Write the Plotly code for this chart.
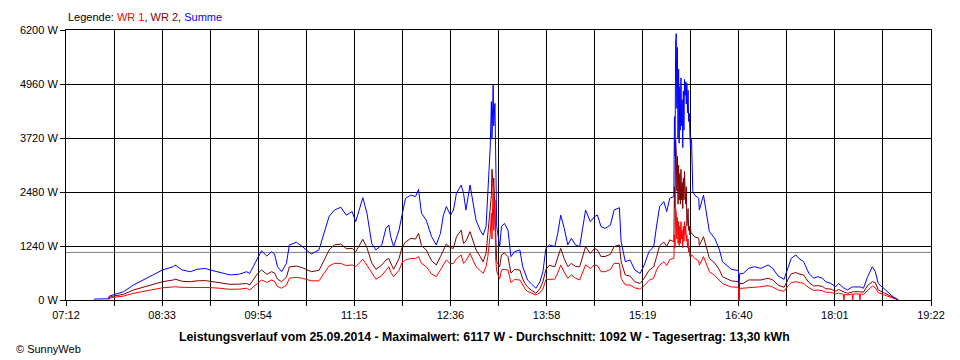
import plotly.graph_objects as go

# ---------------- data ----------------
x_tick_labels = ["07:12", "08:33", "09:54", "11:15", "12:36", "13:58", "15:19", "16:40", "18:01", "19:22"]
y_tick_values = [0, 1240, 2480, 3720, 4960, 6200]
average_w = 1092

times = [
    "07:35:30", "07:48:00", "07:48:30", "07:52:00", "08:00:30", "08:09:00", "08:17:30", "08:26:00", "08:33:30", "08:42:30",
    "08:44:00", "08:50:00", "08:57:00", "09:02:30", "09:09:30", "09:13:30", "09:22:00", "09:30:30", "09:38:30", "09:44:30",
    "09:47:00", "09:51:00", "09:53:30", "09:57:00", "10:01:30", "10:05:30", "10:08:00", "10:10:30", "10:14:00", "10:18:00",
    "10:20:30", "10:26:30", "10:31:30", "10:39:00", "10:45:30", "10:50:00", "10:54:00", "10:58:30", "11:04:00", "11:08:30",
    "11:13:30", "11:16:30", "11:19:30", "11:22:30", "11:26:00", "11:30:00", "11:33:30", "11:38:30", "11:42:00", "11:44:30",
    "11:46:00", "11:48:30", "11:53:00", "11:55:30", "11:58:30", "12:03:00", "12:07:00", "12:09:30", "12:12:00", "12:16:00",
    "12:20:30", "12:24:30", "12:28:00", "12:30:30", "12:33:00", "12:36:30", "12:39:00", "12:41:30", "12:45:30", "12:47:30",
    "12:49:30", "12:53:00", "12:55:30", "12:58:00", "13:01:30", "13:04:00", "13:06:30", "13:08:00", "13:10:00", "13:11:00",
    "13:11:30", "13:12:30", "13:13:00", "13:14:00", "13:14:30", "13:15:30", "13:18:00", "13:19:30", "13:22:00", "13:25:00",
    "13:27:30", "13:30:30", "13:35:00", "13:37:30", "13:40:00", "13:41:30", "13:44:30", "13:46:00", "13:48:30", "13:52:00",
    "13:54:30", "13:57:00", "14:00:00", "14:04:30", "14:07:00", "14:09:30", "14:12:30", "14:15:30", "14:18:30", "14:22:00",
    "14:25:30", "14:28:00", "14:30:30", "14:34:30", "14:38:00", "14:40:30", "14:43:30", "14:47:00", "14:51:30", "14:54:30",
    "14:59:00", "15:00:30", "15:04:00", "15:08:00", "15:12:00", "15:16:30", "15:20:00", "15:24:00", "15:28:00", "15:30:30",
    "15:33:00", "15:36:30", "15:39:00", "15:41:30", "15:45:00",
    "15:45:30", "15:46:00", "15:46:30", "15:47:00", "15:47:30", "15:48:00", "15:48:30", "15:49:00", "15:49:30", "15:50:00",
    "15:50:30", "15:51:00", "15:51:30", "15:52:00", "15:52:30", "15:53:00", "15:53:30", "15:54:00", "15:54:30", "15:55:00",
    "15:55:30", "15:56:00", "15:56:30", "15:57:00", "15:57:30", "15:58:00", "15:58:30", "15:59:00", "15:59:30", "16:00:00",
    "16:01:00", "16:02:30", "16:06:00", "16:06:30", "16:10:00", "16:12:30", "16:15:00", "16:19:30", "16:23:30", "16:26:00",
    "16:31:00", "16:33:30", "16:39:30", "16:40:00", "16:40:30", "16:43:30", "16:48:00", "16:53:00", "16:58:30", "17:04:30",
    "17:08:30", "17:13:00", "17:18:00", "17:21:30", "17:24:00", "17:28:00", "17:30:30", "17:34:30", "17:39:00", "17:43:00",
    "17:46:30", "17:50:30", "17:53:00", "17:57:30", "18:01:30", "18:04:00", "18:08:00", "18:08:30", "18:09:00", "18:11:30",
    "18:15:30", "18:16:00", "18:16:30", "18:21:30", "18:22:00", "18:22:30", "18:25:00", "18:28:30", "18:32:30", "18:35:00",
    "18:37:30", "18:42:00", "18:46:00", "18:50:00", "18:54:30",
]

summe = [
    20, 30, 90, 115, 190, 345, 460, 575, 690, 765,
    805, 690, 650, 705, 725, 690, 630, 575, 595, 650,
    610, 805, 955, 1130, 1010, 1110, 1055, 765, 650, 840,
    1265, 1325, 1225, 1055, 1150, 1530, 1915, 2065, 2130, 1950,
    2030, 1800, 2065, 2350, 1990, 1300, 1150, 1265, 1645, 1720,
    1455, 1225, 1605, 1915, 2335, 2410, 2375, 2540, 1990, 1835,
    1455, 1265, 1530, 1950, 2145, 1950, 2065, 2450, 2640, 2450,
    2065, 2640, 2220, 1835, 1605, 1490, 1685, 2450, 3500, 4555,
    3700, 4940, 4000, 4515, 3290, 1685, 1225, 1685, 1760, 1605,
    995, 1110, 1150, 760, 575, 460, 380, 330, 270, 420,
    650, 1185, 1265, 1225, 1530, 1950, 1645, 1265, 1415, 1265,
    1225, 1645, 2065, 1800, 1915, 1950, 1685, 1645, 1720, 2065,
    2120, 1340, 880, 920, 690, 610, 805, 1110, 1225, 1720,
    2145, 2260, 2030, 2335, 2375,
    4210, 3300, 5900, 6117, 4400, 5800, 3700, 5300, 3600, 4900,
    3900, 5100, 4000, 4600, 3500, 4800, 3900, 5065, 4700, 5010,
    4500, 4975, 4300, 4820, 4100, 4290, 3830, 3500, 3700, 3600,
    2490, 2410, 2335, 2065, 2410, 1990, 1570, 1415, 1150, 880,
    765, 705, 675, 380, 600, 610, 725, 765, 725, 805,
    725, 550, 475, 765, 955, 1035, 955, 880, 610, 500,
    535, 500, 420, 380, 305, 380, 270, 270, 270, 230,
    300, 300, 300, 300, 300, 300, 270, 535, 765, 650,
    380, 270, 155, 75, 0,
]

wr2 = [
    None, 20, 60, 90, 130, 230, 300, 360, 420, 460,
    480, 430, 420, 440, 445, 430, 400, 360, 365, 380,
    345, 520, 600, 690, 590, 650, 620, 480, 420, 520,
    760, 780, 740, 650, 680, 920, 1150, 1265, 1285, 1180,
    1185, 1110, 1250, 1395, 1200, 855, 705, 800, 920, 955,
    850, 705, 950, 1200, 1330, 1415, 1400, 1530, 1250, 1150,
    900, 805, 995, 1150, 1285, 1200, 1185, 1450, 1605, 1300,
    1350, 1570, 1350, 1150, 1000, 880, 1070, 1500, 2000, 2400,
    3000, 2600, 2800, 1800, 1400, 880, 760, 1035, 1080, 995,
    620, 700, 690, 480, 350, 300, 230, 200, 155, 260,
    420, 700, 800, 760, 950, 1185, 950, 765, 840, 770,
    765, 1000, 1225, 1070, 1185, 1150, 995, 1000, 1050, 1225,
    1265, 880, 575, 550, 420, 380, 500, 680, 760, 1000,
    1250, 1330, 1230, 1380, 1340,
    2600, 2100, 3675, 3400, 2500, 3300, 2200, 3100, 2300, 2900,
    2200, 3000, 2300, 2700, 2100, 2800, 2300, 2950, 2500, 2200,
    2600, 1700, 1900, 2100, 1600, 1700, 1500, 1650, 1550, 1530,
    1500, 1450, 1420, 1250, 1455, 1200, 955, 850, 690, 535,
    480, 440, 420, 0, 380, 380, 460, 460, 460, 500,
    460, 340, 290, 480, 600, 630, 600, 575, 400, 320,
    330, 310, 260, 250, 200, 240, 180, 180, 180, 155,
    190, 190, 190, 190, 190, 190, 180, 330, 420, 400,
    230, 170, 110, 50, 0,
]

wr1 = [
    None, 10, 40, 60, 90, 155, 200, 250, 280, 300,
    305, 290, 290, 290, 290, 285, 270, 245, 250, 270,
    230, 330, 390, 460, 405, 460, 430, 310, 270, 340,
    500, 520, 500, 440, 440, 610, 780, 840, 840, 790,
    805, 765, 840, 935, 800, 610, 475, 560, 690, 765,
    640, 535, 680, 850, 920, 955, 950, 995, 840, 765,
    600, 535, 690, 820, 920, 830, 840, 950, 1035, 840,
    900, 1070, 900, 765, 680, 610, 765, 1000, 1500, 2000,
    1400, 2680, 1600, 2300, 1000, 650, 480, 690, 700, 690,
    400, 470, 460, 330, 230, 200, 160, 140, 115, 170,
    250, 470, 480, 480, 620, 805, 640, 500, 575, 500,
    460, 640, 805, 725, 805, 790, 650, 650, 700, 840,
    840, 500, 345, 345, 280, 250, 330, 450, 500, 700,
    800, 880, 790, 930, 955,
    1500, 1200, 2100, 2000, 1400, 1900, 1300, 1800, 1250, 1700,
    1300, 1800, 1400, 1600, 1200, 1700, 1350, 1800, 1500, 1700,
    1350, 1500, 1200, 1400, 1100, 1200, 1000, 1050, 1000, 1035,
    1000, 960, 900, 800, 995, 800, 650, 560, 460, 380,
    320, 300, 290, 0, 265, 270, 290, 300, 305, 330,
    300, 230, 200, 330, 400, 420, 400, 380, 280, 220,
    230, 210, 180, 175, 140, 160, 130, 0, 130, 115,
    140, 0, 140, 140, 0, 140, 130, 230, 320, 280,
    170, 120, 80, 40, 0,
]

assert len(times) == len(summe) == len(wr1) == len(wr2)


def to_minutes(s):
    h, m, sec = (int(p) for p in s.split(":"))
    return h * 60 + m + sec / 60.0


x_vals = [to_minutes(t) for t in times]

x_start = to_minutes("07:12:00")
x_end = to_minutes("19:22:00")
n_grid = 18
grid_vals = [x_start + k * (x_end - x_start) / n_grid for k in range(n_grid + 1)]
grid_text = [x_tick_labels[k // 2] if k % 2 == 0 else "" for k in range(n_grid + 1)]

# ---------------- figure ----------------
fig = go.Figure()
fig.add_trace(go.Scatter(x=x_vals, y=wr2, mode="lines", name="WR 2",
                         line=dict(color="#800000", width=1)))
fig.add_trace(go.Scatter(x=x_vals, y=wr1, mode="lines", name="WR 1",
                         line=dict(color="#FF0000", width=1)))
fig.add_trace(go.Scatter(x=x_vals, y=summe, mode="lines", name="Summe",
                         line=dict(color="#0000FF", width=1)))

fig.add_shape(type="line", xref="paper", x0=0, x1=1, yref="y", y0=average_w, y1=average_w,
              line=dict(color="#808080", width=1), layer="below")

font_family = "Liberation Sans, Arial, sans-serif"

# the page body has an 8px margin, so the figure is shifted by 8px; compensate
fig.update_layout(
    width=952, height=352,
    margin=dict(l=52, r=29, t=22, b=60),
    paper_bgcolor="white", plot_bgcolor="white",
    showlegend=False,
    font=dict(family=font_family, size=11, color="black"),
    xaxis=dict(
        range=[x_start, x_end], tickmode="array", tickvals=grid_vals, ticktext=grid_text,
        ticks="outside", ticklen=5, tickcolor="black", tickwidth=1,
        showgrid=True, gridcolor="black", gridwidth=1,
        showline=True, linecolor="black", linewidth=1, mirror=True, zeroline=False,
        tickfont=dict(size=11),
    ),
    yaxis=dict(
        range=[0, 6200], tickmode="array", tickvals=y_tick_values,
        ticktext=[f"{v} W" for v in y_tick_values],
        ticks="outside", ticklen=5, tickcolor="black", tickwidth=1,
        showgrid=True, gridcolor="black", gridwidth=1,
        showline=True, linecolor="black", linewidth=1, mirror=True, zeroline=False,
        tickfont=dict(size=11),
    ),
)

legend_text = ("Legende: <span style='color:#FF0000'>WR 1</span>, "
               "<span style='color:#800000'>WR 2</span>, "
               "<span style='color:#0000FF'>Summe</span>")
fig.add_annotation(text=legend_text, xref="paper", yref="paper", x=0, y=1.048,
                   xanchor="left", yanchor="middle", showarrow=False,
                   font=dict(size=11, color="black"))

title_text = ("<b>Leistungsverlauf vom 25.09.2014 - Maximalwert: 6117 W - "
              "Durchschnitt: 1092 W - Tagesertrag: 13,30 kWh</b>")
fig.add_annotation(text=title_text, xref="paper", yref="paper", x=0.4834, y=-0.137,
                   xanchor="center", yanchor="middle", showarrow=False,
                   font=dict(size=12.3, color="black"))

fig.add_annotation(text="© SunnyWeb", xref="paper", yref="paper", x=-0.0597, y=-0.1815,
                   xanchor="left", yanchor="middle", showarrow=False,
                   font=dict(size=11, color="black"))

fig.write_html("out.html", config={"displayModeBar": False})
